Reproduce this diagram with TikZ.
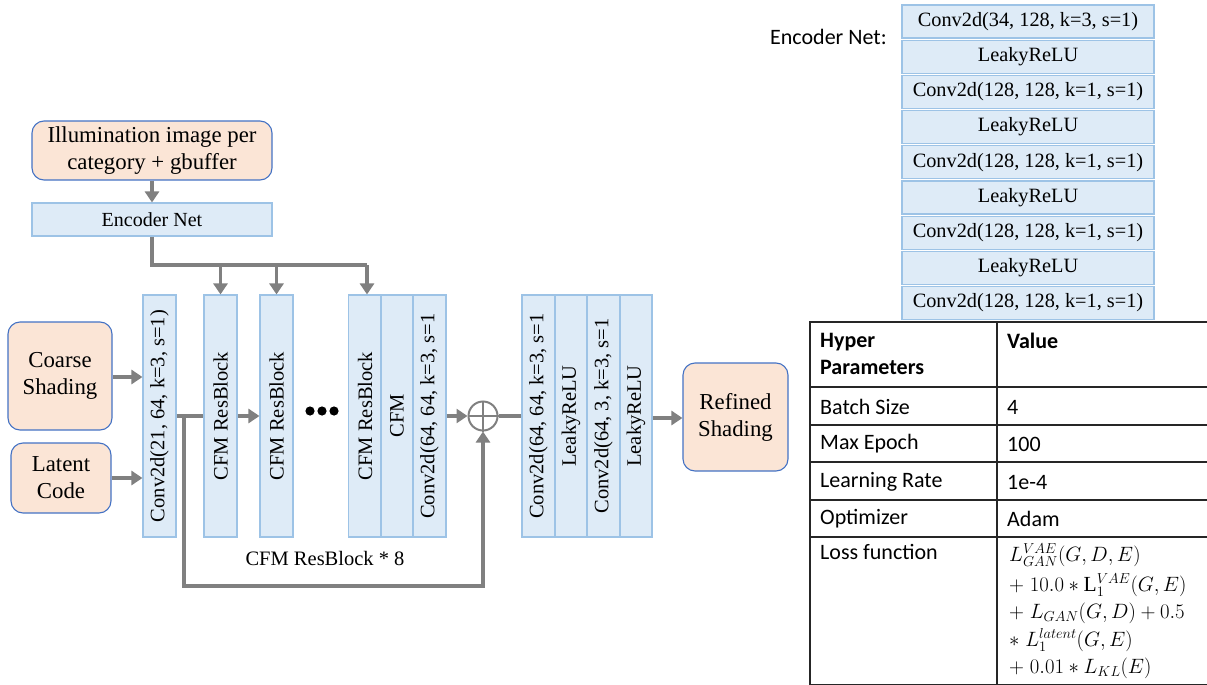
\documentclass[tikz,border=0pt]{standalone}
\usepackage{fontspec}
\usepackage{graphicx}
\setmainfont{Liberation Serif}
\newfontfamily\tabfont{Carlito}
\usetikzlibrary{arrows.meta,positioning}

\definecolor{blockfill}{HTML}{DEEBF7}
\definecolor{blockline}{HTML}{9DC3E6}
\definecolor{ioFill}{HTML}{FBE5D6}
\definecolor{ioLine}{HTML}{4472C4}
\definecolor{wire}{HTML}{808080}

\tikzset{
  vblock/.style={draw=blockline, fill=blockfill, line width=1.1pt, inner sep=0pt,
    minimum width=33pt, minimum height=242pt, font=\fontsize{20.5}{24}\selectfont},
  hblock/.style={draw=blockline, fill=blockfill, line width=1.1pt, inner sep=0pt,
    minimum width=252pt, minimum height=33pt, font=\fontsize{20.3}{24}\selectfont},
  iobox/.style={draw=ioLine, fill=ioFill, line width=1.1pt, rounded corners=12pt,
    inner sep=0pt, align=center, font=\fontsize{22.8}{27}\selectfont},
  wireline/.style={draw=wire, line width=3.8pt},
  arr/.style={wireline, -{Triangle[length=11pt,width=14pt]}},
  tabtext/.style={font=\tabfont\fontsize{22}{27}\selectfont, inner sep=0pt},
  mathline/.style={anchor=base west, inner sep=0pt, font=\fontsize{21.5}{26}\selectfont},
}

\begin{document}
\begin{tikzpicture}[x=1pt,y=-1pt]
\useasboundingbox (0,0) rectangle (1207,685);

% inputs and illumination branch
\node[iobox, minimum width=240pt, minimum height=59pt] (illum) at (152,150.5)
  {Illumination image per\\category + gbuffer};
\node[draw=blockline, fill=blockfill, line width=1.1pt, minimum width=240pt,
  minimum height=33pt, inner sep=0pt, font=\fontsize{20}{24}\selectfont]
  (enc) at (152,219.5) {Encoder Net};
\node[iobox, minimum width=104pt, minimum height=108pt] (coarse) at (60,376) {Coarse\\Shading};
\node[iobox, minimum width=100pt, minimum height=70pt] (latent) at (61,478) {Latent\\Code};

% main network blocks
\node[vblock] (c1) at (159.5,416) {\rotatebox{90}{Conv2d(21, 64, k=3, s=1)}};
\node[vblock] (r1) at (220.5,416) {\rotatebox{90}{CFM ResBlock}};
\node[vblock] (r2) at (276.5,416) {\rotatebox{90}{CFM ResBlock}};
\node[vblock] (r3) at (365,416) {\rotatebox{90}{CFM ResBlock}};
\node[vblock, minimum width=32pt] (cfm) at (397,416) {\rotatebox{90}{CFM}};
\node[vblock] (c2) at (429.5,416) {\rotatebox{90}{Conv2d(64, 64, k=3, s=1}};

\node[circle, draw=wire, line width=2pt, minimum size=29pt, inner sep=0pt] (sum) at (483,416) {};
\draw[wire, line width=1.6pt] (sum.north) -- (sum.south) (sum.west) -- (sum.east);

\node[vblock, minimum width=33pt] (d1) at (538.5,416) {\rotatebox{90}{Conv2d(64, 64, k=3, s=1}};
\node[vblock, minimum width=32pt] (d2) at (571,416) {\rotatebox{90}{LeakyReLU}};
\node[vblock, minimum width=33pt] (d3) at (603.5,416) {\rotatebox{90}{Conv2d(64, 3, k=3, s=1}};
\node[vblock, minimum width=32pt] (d4) at (636,416) {\rotatebox{90}{LeakyReLU}};

\node[iobox, minimum width=105pt, minimum height=108pt] (out) at (735.5,417) {Refined\\Shading};

% ellipsis between residual blocks
\foreach \dx in {310,322,334} \fill[black] (\dx,411) circle (4.6pt);
\node[inner sep=0pt, font=\fontsize{20.5}{24}\selectfont] (lbl) at (325,558) {CFM ResBlock * 8};

% connectors
\draw[arr] (illum.south) -- (enc.north);
\coordinate (bus) at (367,265);
\draw[wireline] (enc.south) |- (bus);
\draw[arr] (bus) -- (bus |- r3.north);
\draw[arr] (r1.north |- bus) -- (r1.north);
\draw[arr] (r2.north |- bus) -- (r2.north);
\draw[arr] (coarse.east |- 0,377) -- (c1.west |- 0,377);
\draw[arr] (latent.east) -- (c1.west |- latent.east);
\draw[wireline] (c1.east) -- (r1.west);
\draw[arr] (r1.east) -- (r2.west);
\draw[arr] (c2.east) -- (sum.west);
\draw[wireline] (sum.east) -- (d1.west);
\draw[arr] (d4.east |- 0,418) -- (out.west |- 0,418);
\coordinate (skip) at (184,416);
\coordinate (skipb) at (184,586);
\draw[arr] (skip) -- (skipb) -| (sum.south);

% encoder network detail
\node[tabtext, anchor=west] (enclbl) at (770,37) {Encoder Net:};
\node[hblock] (e1) at (1028,21.5) {Conv2d(34, 128, k=3, s=1)};
\node[hblock] (e2) at (1028,56.7) {LeakyReLU};
\node[hblock] (e3) at (1028,91.9) {Conv2d(128, 128, k=1, s=1)};
\node[hblock] (e4) at (1028,127.1) {LeakyReLU};
\node[hblock] (e5) at (1028,162.3) {Conv2d(128, 128, k=1, s=1)};
\node[hblock] (e6) at (1028,197.5) {LeakyReLU};
\node[hblock] (e7) at (1028,232.7) {Conv2d(128, 128, k=1, s=1)};
\node[hblock] (e8) at (1028,267.9) {LeakyReLU};
\node[hblock] (e9) at (1028,303.1) {Conv2d(128, 128, k=1, s=1)};

% hyper-parameter table
\draw[black!85, line width=1.4pt] (810,322) rectangle (1210,684.5);
\draw[black!85, line width=1.4pt] (997,322) -- (997,684.5);
\foreach \yy in {387,425,462,500,537} \draw[black!85, line width=1.4pt] (810,\yy) -- (1210,\yy);

\node[tabtext, anchor=north west, align=left] (h1) at (820,333) {\bfseries Hyper\\\bfseries Parameters};
\node[tabtext, anchor=north west] (h2) at (1007,333) {\bfseries Value};
\node[tabtext, anchor=west] (k1) at (820,407) {Batch Size};
\node[tabtext, anchor=west] (v1) at (1007,407) {4};
\node[tabtext, anchor=west] (k2) at (820,444) {Max Epoch};
\node[tabtext, anchor=west] (v2) at (1007,444) {100};
\node[tabtext, anchor=west] (k3) at (820,482) {Learning Rate};
\node[tabtext, anchor=west] (v3) at (1007,482) {1e-4};
\node[tabtext, anchor=west] (k4) at (820,519) {Optimizer};
\node[tabtext, anchor=west] (v4) at (1007,519) {Adam};
\node[tabtext, anchor=north west] (k5) at (820,544) {Loss function};

% loss function, one line per node
\node[mathline] (m1) at (1009,561) {$L_{GAN}^{VAE}(G,D,E)$};
\node[mathline] (m2) at (1009,591) {$+\;10.0 * \mathrm{L}_1^{VAE}(G,E)$};
\node[mathline] (m3) at (1009,618.5) {$+\;L_{GAN}(G,D) + 0.5$};
\node[mathline] (m4) at (1009,646) {$*\;L_1^{latent}(G,E)$};
\node[mathline] (m5) at (1009,673.5) {$+\;0.01 * L_{KL}(E)$};
\end{tikzpicture}
\end{document}
